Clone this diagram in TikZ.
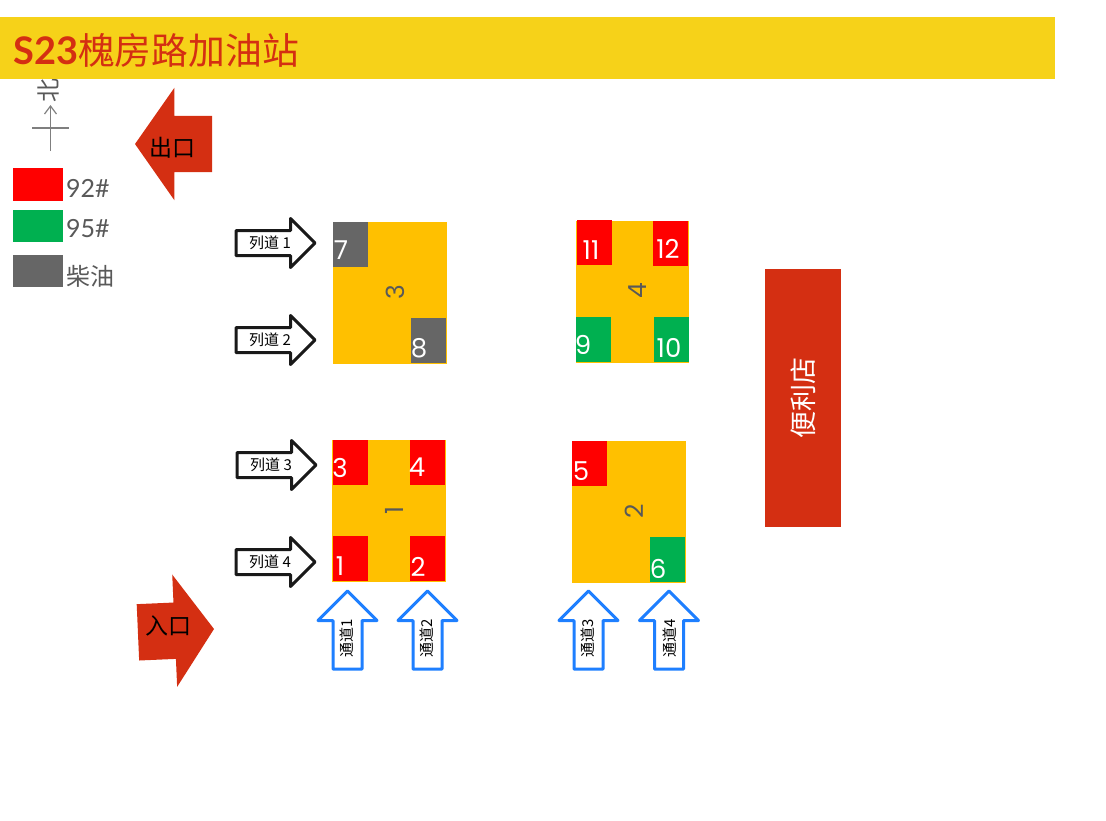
\documentclass[tikz,border=0pt]{standalone}
\usepackage{fontspec}
\setmainfont{Poppins}
\newfontfamily\cjk{Noto Sans CJK SC}
\newfontfamily\latofont{Lato}
\usetikzlibrary{shapes.arrows,arrows.meta}
\definecolor{bannerY}{HTML}{F6D219}
\definecolor{brick}{HTML}{D42F12}
\definecolor{amber}{HTML}{FFC000}
\definecolor{pumpG}{HTML}{00B050}
\definecolor{pumpD}{HTML}{666666}
\definecolor{inkG}{HTML}{595959}
\definecolor{laneB}{HTML}{1E7FFF}
\definecolor{cross}{HTML}{7F7F7F}
\tikzset{
  flat/.style={anchor=north west,inner sep=0,outer sep=0,minimum width=#1},
  island/.style={flat=114,minimum height=142,fill=amber},
  pump/.style={flat=35,minimum height=45},
  pumpnum/.style={text=white,font=\fontsize{26}{26}\selectfont,inner sep=0},
  islandnum/.style={text=inkG,rotate=90,font=\fontsize{25}{25}\selectfont,inner sep=0},
  legendtxt/.style={anchor=west,text=inkG,inner sep=0,font=\latofont\fontsize{25}{25}\selectfont},
  lanearrow/.style={single arrow,anchor=tip,draw=black!90,fill=white,line width=3,line join=round,
    inner xsep=0,inner ysep=11,outer sep=0,minimum width=47,minimum height=79,single arrow head extend=12,single arrow tip angle=90},
  lanetxt/.style={font=\cjk\fontsize{15}{15}\selectfont,inner sep=0},
  aislearrow/.style={single arrow,anchor=tip,shape border rotate=90,draw=laneB,fill=white,line width=3,line join=round,
    inner sep=13,outer sep=0,minimum width=56,minimum height=78,single arrow head extend=15,single arrow tip angle=90},
  aisletxt/.style={rotate=90,font=\cjk\fontsize{15}{15}\selectfont,inner sep=0},
  gatearrow/.style={single arrow,anchor=tip,fill=brick,inner sep=28,outer sep=0,minimum width=112,
    minimum height=77,single arrow head extend=28,single arrow tip angle=110},
  gatetxt/.style={font=\cjk\fontsize{23}{23}\selectfont,inner sep=0}
}
\begin{document}
\begin{tikzpicture}[x=1pt,y=-1pt]
\useasboundingbox (0,0) rectangle (1106,820);

%------------------------
% North mark (its letter runs under the banner)
%------------------------
\node[rotate=90,text=inkG,font=\cjk\fontsize{24}{24}\selectfont,inner sep=0] (northtxt) at (48,90) {北};
\coordinate (northtail) at (50.5,151);
\coordinate (northtip) at (50.5,105);
\coordinate (crossL) at (32,128);
\coordinate (crossR) at (69,128);
\draw[cross,line width=1.2,-{Straight Barb[length=8pt,width=12pt]}] (northtail) -- (northtip);
\draw[cross,line width=1.2] (crossL) -- (crossR);

%------------------------
% Banner
%------------------------
\node[flat=1055,minimum height=62,fill=bannerY] (banner) at (0,17) {};
\node[anchor=west,inner sep=0,text=brick] (title) at (13,50)
  {\latofont\bfseries\fontsize{38}{38}\selectfont S23\cjk\mdseries\fontsize{36.8}{37}\selectfont 槐房路加油站};

%------------------------
% Legend
%------------------------
\node[flat=50,minimum height=33,fill=red] (key92) at (13,168) {};
\node[flat=50,minimum height=32,fill=pumpG] (key95) at (13,210) {};
\node[flat=50,minimum height=32,fill=pumpD] (keyD) at (13,255) {};
\node[legendtxt] (txt92) at (66,188) {92\#};
\node[legendtxt] (txt95) at (66,229) {95\#};
\node[legendtxt,font=\cjk\fontsize{24}{24}\selectfont] (txtD) at (66,276) {柴油};

%------------------------
% Way out, way in
%------------------------
\node[gatearrow,shape border rotate=180] (exitarrow) at (135,144) {};
\node[gatetxt] (exittxt) at (172,148) {出口};
\node[gatearrow,rotate=2.5,minimum height=76] (entryarrow) at (214,629) {};
\node[gatetxt] (entrytxt) at (168,626) {入口};

%------------------------
% Islands
%------------------------
\node[island] (isle3) at (333,222) {};
\node[island,minimum width=113] (isle4) at (576,220.5) {};
\node[island] (isle1) at (332,440) {};
\node[island] (isle2) at (572,441) {};
\node[islandnum] (num3) at (395,292) {3};
\node[islandnum] (num4) at (638,291) {4};
\node[islandnum] (num1) at (394,510) {1};
\node[islandnum] (num2) at (634,511) {2};

%------------------------
% Pumps
%------------------------
\node[pump,fill=pumpD] (pump7) at (333,222) {};
\node[pump,fill=pumpD] (pump8) at (411,318) {};
\node[pump,fill=red] (pump11) at (577,220) {};
\node[pump,fill=red] (pump12) at (653,221) {};
\node[pump,fill=pumpG] (pump9) at (576,317) {};
\node[pump,fill=pumpG] (pump10) at (654,317) {};
\node[pump,fill=red] (pump3) at (333,440) {};
\node[pump,fill=red] (pump4) at (410,440) {};
\node[pump,fill=red] (pump1) at (333,536) {};
\node[pump,fill=red] (pump2) at (410,536) {};
\node[pump,fill=red] (pump5) at (572,441) {};
\node[pump,fill=pumpG] (pump6) at (650,537) {};

\node[pumpnum] (txt7) at (341,250) {7};
\node[pumpnum] (txt8) at (419,348) {8};
\node[pumpnum] (txt11) at (591,250) {11};
\node[pumpnum] (txt12) at (668,249) {12};
\node[pumpnum] (txt9) at (583,345) {9};
\node[pumpnum] (txt10) at (669,348) {10};
\node[pumpnum] (txt3) at (340,468) {3};
\node[pumpnum] (txt4) at (417,467) {4};
\node[pumpnum] (txt1) at (340,566) {1};
\node[pumpnum] (txt2) at (418,567) {2};
\node[pumpnum] (txt5) at (581,471) {5};
\node[pumpnum] (txt6) at (658,569) {6};

%------------------------
% Store
%------------------------
\node[flat=76,minimum height=258,fill=brick] (store) at (765,269) {};
\node[rotate=90,text=white,font=\cjk\fontsize{27}{27}\selectfont,inner sep=0] (storetxt) at (803,398) {便利店};

%------------------------
% Lanes
%------------------------
\node[lanearrow] (lane1) at (315,243) {};
\node[lanetxt] (lanetxt1) at (270,243) {列道 1};
\node[lanearrow] (lane2) at (315,340) {};
\node[lanetxt] (lanetxt2) at (270,340) {列道 2};
\node[lanearrow] (lane3) at (316,465) {};
\node[lanetxt] (lanetxt3) at (271,465) {列道 3};
\node[lanearrow] (lane4) at (315,562) {};
\node[lanetxt] (lanetxt4) at (270,562) {列道 4};

%------------------------
% Aisles
%------------------------
\node[aislearrow] (aisle1) at (347.5,591) {};
\node[aisletxt] (aisletxt1) at (347,638) {通道1};
\node[aislearrow] (aisle2) at (427.5,591) {};
\node[aisletxt] (aisletxt2) at (427,638) {通道2};
\node[aislearrow] (aisle3) at (588.5,591) {};
\node[aisletxt] (aisletxt3) at (588,638) {通道3};
\node[aislearrow] (aisle4) at (669,591) {};
\node[aisletxt] (aisletxt4) at (670,638) {通道4};

\end{tikzpicture}
\end{document}
